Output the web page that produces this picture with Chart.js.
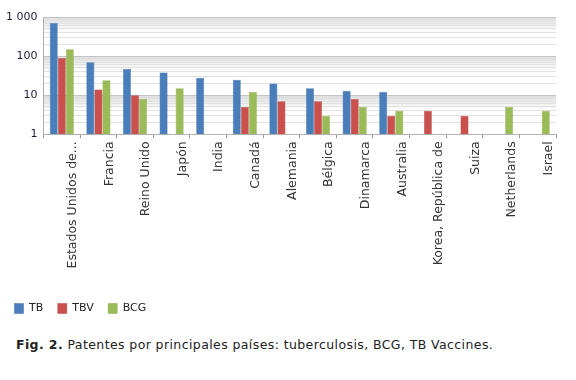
<!DOCTYPE html>
<html>
<head>
<meta charset="utf-8">
<script src="https://cdn.jsdelivr.net/npm/chart.js@4/dist/chart.umd.min.js"></script>
<style>
  body { margin: 0; background: #fff; }
  .wrap { position: relative; width: 576px; height: 380px; }
  #chart { position: absolute; left: 0; top: 0; }
  .caption {
    position: absolute; left: 16px; top: 337px;
    font-family: "DejaVu Sans", Verdana, sans-serif; font-size: 12.5px; letter-spacing: 0.4px; color: #222;
  }
</style>
</head>
<body>
<div class="wrap">
  <canvas id="chart" width="576" height="324"></canvas>
  <div class="caption"><b>Fig. 2.</b> Patentes por principales países: tuberculosis, BCG, TB Vaccines.</div>
</div>
<script>
const countries = ["Estados Unidos de...", "Francia", "Reino Unido", "Japón", "India", "Canadá", "Alemania",
  "Bélgica", "Dinamarca", "Australia", "Korea, República de", "Suiza", "Netherlands", "Israel"];
const tb  = [700, 70, 47, 38, 28, 25, 20, 15, 13, 12, null, null, null, null];
const tbv = [90, 14, 10, null, null, 5, 7, 7, 8, 3, 4, 3, null, null];
const bcg = [150, 24, 8, 15, null, 12, null, 3, 5, 4, null, null, 5, 4];

const majorTicks = [1, 10, 100, 1000];
const majorLabels = ["1", "10", "100", "1 000"];

// log gridlines: every integer multiple inside each decade
const gridValues = [];
for (const d of [1, 10, 100]) {
  for (let m = 1; m < 10; m++) gridValues.push(d * m);
}
gridValues.push(1000);

const bandPlugin = {
  id: "bands",
  beforeDraw(chart) {
    const { ctx, chartArea, scales } = chart;
    const y = scales.y;
    ctx.save();
    for (const d of [1, 10, 100]) {
      const top = y.getPixelForValue(d * 10);
      const bot = y.getPixelForValue(d * 4);
      const g = ctx.createLinearGradient(0, top, 0, bot);
      g.addColorStop(0, "rgba(200,200,200,0.75)");
      g.addColorStop(1, "rgba(235,235,235,0.1)");
      ctx.fillStyle = g;
      ctx.fillRect(chartArea.left, top, chartArea.right - chartArea.left, bot - top);
    }
    ctx.restore();
  }
};

new Chart(document.getElementById("chart"), {
  type: "bar",
  data: {
    labels: countries,
    datasets: [
      { label: "TB", data: tb, backgroundColor: "#4a7ebb", borderColor: "#3f6fa8", borderWidth: 0.5 },
      { label: "TBV", data: tbv, backgroundColor: "#c9504d", borderColor: "#b04542", borderWidth: 0.5 },
      { label: "BCG", data: bcg, backgroundColor: "#9bbb59", borderColor: "#88a84c", borderWidth: 0.5 }
    ]
  },
  options: {
    responsive: false,
    animation: false,
    layout: { padding: { top: 17, right: 20, left: 0, bottom: 0 } },
    datasets: { bar: { categoryPercentage: 0.66, barPercentage: 1 } },
    scales: {
      x: {
        afterFit(scale) { scale.height += 17; },
        grid: { offset: true, drawOnChartArea: false, tickLength: 4, color: "#9a9a9a" },
        border: { color: "#b0b0b0" },
        ticks: {
          autoSkip: false, minRotation: 90, maxRotation: 90, labelOffset: 11,
          color: "#333", font: { family: "DejaVu Sans", size: 12.5 }
        }
      },
      y: {
        type: "logarithmic",
        min: 1, max: 1000,
        afterBuildTicks(scale) {
          scale.ticks = gridValues.map(v => ({ value: v, major: majorTicks.includes(v) }));
        },
        grid: {
          color: c => majorTicks.includes(c.tick.value) ? "#c4c4c4" : "#e2e2e2",
          drawTicks: false
        },
        border: { color: "#b0b0b0" },
        ticks: {
          autoSkip: false, padding: 6,
          color: "#1c1c3a", font: { family: "DejaVu Sans", size: 11 },
          callback: v => {
            const i = majorTicks.indexOf(v);
            return i >= 0 ? majorLabels[i] : "";
          }
        }
      }
    },
    plugins: {
      legend: {
        position: "bottom", align: "start",
        labels: {
          boxWidth: 9, boxHeight: 10, padding: 14.5,
          color: "#222", font: { family: "DejaVu Sans", size: 11 }
        }
      },
      tooltip: { enabled: false }
    }
  },
  plugins: [bandPlugin]
});
</script>
</body>
</html>
